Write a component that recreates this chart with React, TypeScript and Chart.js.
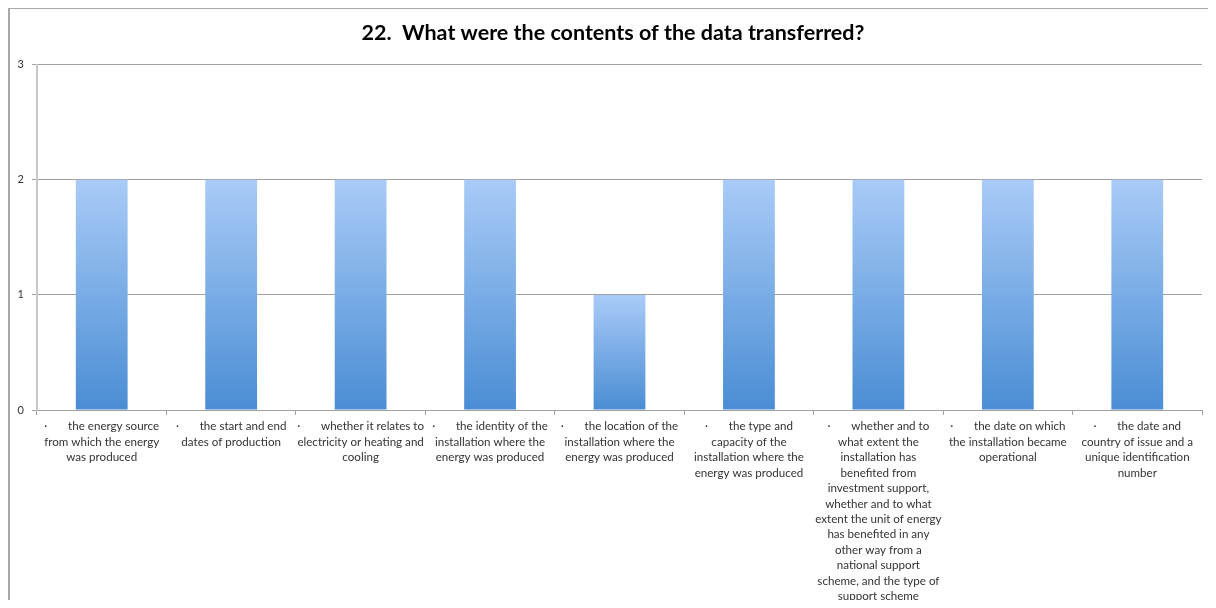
import React, { useEffect, useRef } from "react";
import { Chart, registerables } from "chart.js";

Chart.register(...registerables);

const titleText = "22.  What were the contents of the data transferred?";

const categories: string[][] = [
  ["·       the energy source", "from which the energy", "was produced"],
  ["·       the start and end", "dates of production"],
  ["·       whether it relates to", "electricity or heating and", "cooling"],
  ["·       the identity of the", "installation where the", "energy was produced"],
  ["·       the location of the", "installation where the", "energy was produced"],
  ["·       the type and", "capacity of the", "installation where the", "energy was produced"],
  [
    "·       whether and to",
    "what extent the",
    "installation has",
    "benefited from",
    "investment support,",
    "whether and to what",
    "extent the unit of energy",
    "has benefited in any",
    "other way from a",
    "national support",
    "scheme, and the type of",
    "support scheme",
  ],
  ["·       the date on which", "the installation became", "operational"],
  ["·       the date and", "country of issue and a", "unique identification", "number"],
];

const values: number[] = [2, 2, 2, 2, 1, 2, 2, 2, 2];

const yTicks: number[] = [0, 1, 2, 3];

const FONT = "Lato, 'Open Sans', sans-serif";

export default function App() {
  const ref = useRef<HTMLCanvasElement | null>(null);

  useEffect(() => {
    if (!ref.current) return;
    const chart = new Chart(ref.current, {
      type: "bar",
      data: {
        labels: categories,
        datasets: [
          {
            data: values,
            yAxisID: "y",
            barPercentage: 0.4,
            categoryPercentage: 1,
            borderWidth: 0,
            backgroundColor: (ctx: any) => {
              const c = ctx.chart;
              const y = c.scales?.y;
              if (!y || ctx.parsed == null) return "#6fa6e6";
              const top = y.getPixelForValue(ctx.parsed.y);
              const bottom = y.getPixelForValue(0);
              if (!isFinite(top) || !isFinite(bottom) || top === bottom) return "#6fa6e6";
              const g = c.ctx.createLinearGradient(0, top, 0, bottom);
              g.addColorStop(0, "#a9cbf7");
              g.addColorStop(1, "#4a8dd4");
              return g;
            },
          },
        ],
      },
      options: {
        responsive: true,
        maintainAspectRatio: false,
        animation: false,
        layout: { padding: 0 },
        plugins: {
          legend: { display: false },
          tooltip: { enabled: false },
          title: {
            display: true,
            text: titleText,
            color: "#000",
            font: { family: FONT, size: 21.5, weight: "bold" },
            padding: { top: 11, bottom: 19 },
          },
        },
        scales: {
          x: {
            grid: {
              display: true,
              drawOnChartArea: false,
              drawTicks: true,
              tickLength: 5,
              color: "#a0a0a0",
              offset: true,
            },
            border: { display: true, color: "#a0a0a0", width: 1 },
            ticks: {
              autoSkip: false,
              maxRotation: 0,
              minRotation: 0,
              padding: 4,
              color: "#333",
              font: { family: FONT, size: 11.6, lineHeight: 1.33 },
            },
            afterFit: (scale: any) => {
              scale.height = 198;
            },
          },
          y: {
            position: "left",
            min: 0,
            max: 3,
            afterBuildTicks: (scale: any) => {
              scale.ticks = yTicks.map((v) => ({ value: v }));
            },
            grid: {
              color: "#a0a0a0",
              lineWidth: 1,
              tickLength: 5,
              drawTicks: true,
            },
            border: { display: true, color: "#c8c8c8", width: 2 },
            ticks: {
              padding: 8,
              color: "#333",
              font: { family: FONT, size: 11 },
            },
            afterFit: (scale: any) => {
              scale.width = 27;
            },
          },
          yRight: {
            position: "right",
            display: true,
            min: 0,
            max: 3,
            grid: { display: false, drawOnChartArea: false, drawTicks: false },
            border: { display: false },
            ticks: { display: false },
            afterFit: (scale: any) => {
              scale.width = 14;
            },
          },
        },
      },
    });
    return () => chart.destroy();
  }, []);

  return (
    <div
      style={{
        position: "relative",
        marginTop: -1,
        marginRight: -8,
        height: 593,
        boxSizing: "border-box",
        borderLeft: "2px solid #a8a8a8",
        borderTop: "2px solid #a8a8a8",
        background: "#fff",
      }}
    >
      <div style={{ position: "absolute", left: 0, top: 0, right: 0, bottom: -8 }}>
        <canvas ref={ref} />
      </div>
    </div>
  );
}
